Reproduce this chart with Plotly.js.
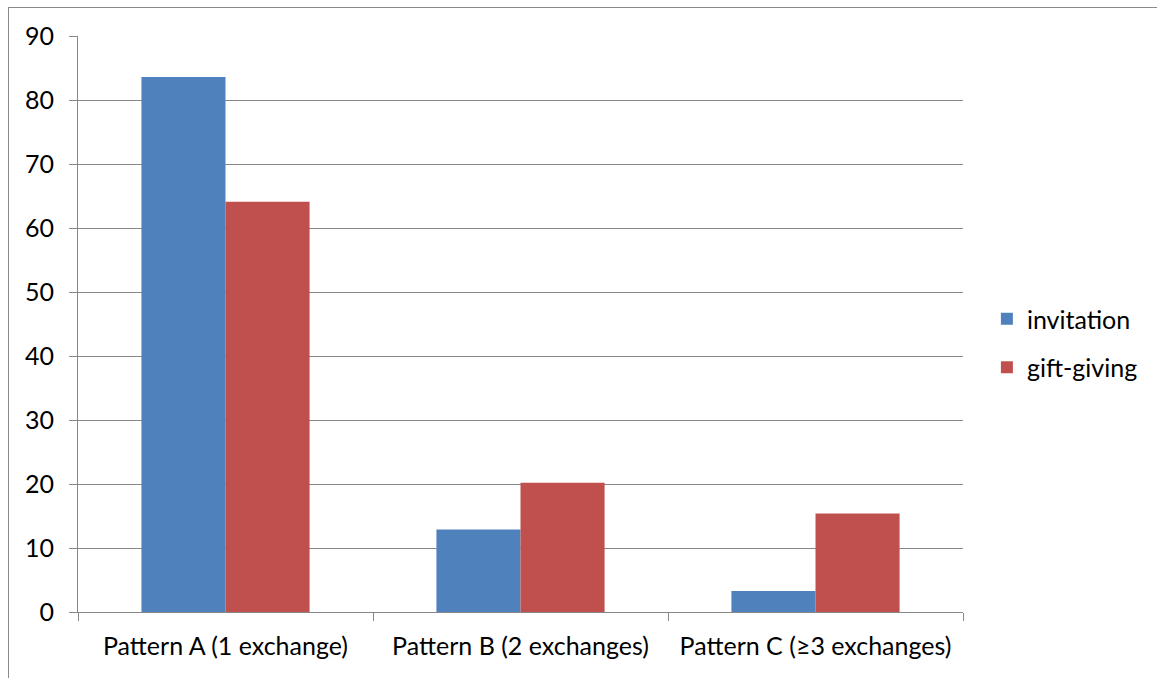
<!DOCTYPE html>
<html>
<head>
<meta charset="utf-8">
<script src="https://cdn.plot.ly/plotly-3.0.1.min.js"></script>
<style>
  html, body { margin: 0; padding: 0; background: #fff; }
  #wrap { position: relative; width: 1157px; height: 678px; }
  #chart { position: absolute; left: 0; top: 0; width: 1157px; height: 678px; }
  #frame { position: absolute; left: 8px; top: 7px; width: 1149px; height: 671px;
           border-left: 1px solid #8a8a8a; border-top: 1px solid #8a8a8a;
           box-sizing: border-box; pointer-events: none; }
</style>
</head>
<body>
<div id="wrap">
  <div id="chart"></div>
  <div id="frame"></div>
</div>
<script>
// Exchange patterns and the share of each custom per pattern
const categories = ['Pattern A (1 exchange)', 'Pattern B (2 exchanges)', 'Pattern C (\u22653 exchanges)'];
const invitation = [83.6, 12.9, 3.3];
const giftGiving = [64.1, 20.2, 15.4];
const yTicks = [0, 10, 20, 30, 40, 50, 60, 70, 80, 90];

const font = { family: 'Lato, "Open Sans", sans-serif', size: 25, color: '#000' };
const gridGray = '#878787';

const traces = [
  { type: 'bar', name: 'invitation', x: categories, y: invitation,
    marker: { color: '#4F81BD' }, legendgroup: 'a' },
  { type: 'bar', name: 'gift-giving', x: categories, y: giftGiving,
    marker: { color: '#C0504D' }, legendgroup: 'b' }
];

const layout = {
  width: 1157, height: 678,
  margin: { l: 78, r: 194, t: 36, b: 66, pad: 0 },
  paper_bgcolor: 'rgba(0,0,0,0)', plot_bgcolor: '#fff',
  font: font,
  barmode: 'group', bargap: 0.43, bargroupgap: 0,
  showlegend: true,
  legend: { x: 1.027, xanchor: 'left', y: 0.467, yanchor: 'middle',
            font: font, traceorder: 'grouped', tracegroupgap: 13,
            bgcolor: 'rgba(0,0,0,0)', itemwidth: 30 },
  xaxis: {
    type: 'category', showgrid: false, showline: true, linecolor: gridGray, linewidth: 1,
    ticks: 'outside', tickson: 'boundaries', ticklen: 8, tickcolor: gridGray,
    tickfont: font, ticklabelstandoff: 12, fixedrange: true
  },
  yaxis: {
    range: [0, 90], tickvals: yTicks, ticktext: yTicks.map(String),
    showgrid: true, gridcolor: gridGray, gridwidth: 1, zeroline: false,
    showline: true, linecolor: gridGray, linewidth: 1,
    ticks: 'outside', ticklen: 8, tickcolor: gridGray,
    tickfont: font, ticklabelstandoff: 10, fixedrange: true
  }
};

Plotly.newPlot('chart', traces, layout, { displayModeBar: false, staticPlot: true });
</script>
</body>
</html>
